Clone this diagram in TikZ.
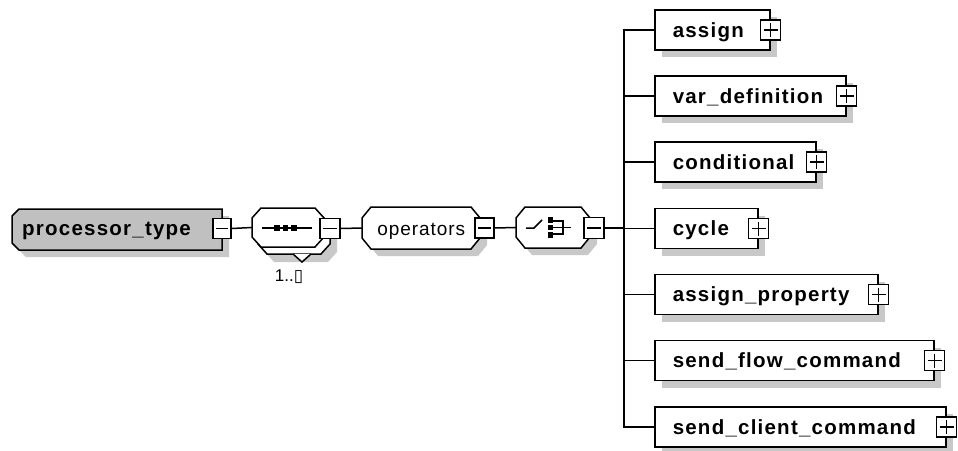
\documentclass[tikz,border=0pt]{standalone}
\usepackage{fontspec}
\setmainfont{Liberation Sans}
\newfontfamily\efont{Liberation Sans}[LetterSpace=6]
\newfontfamily\ofont{Liberation Sans}[LetterSpace=5]
\newfontfamily\symfont{DejaVu Sans}
\usetikzlibrary{shadows}
\definecolor{shadowc}{HTML}{C8C8C8}
\definecolor{elemfill}{HTML}{C0C0C0}
\newcommand{\myocta}[7]{\path[#1] ({#2+#6},#3) -- ({#4-#6},#3) -- (#4,{#3+#7}) -- (#4,{#5-#7}) -- ({#4-#6},#5) -- ({#2+#6},#5) -- (#2,{#5-#7}) -- (#2,{#3+#7}) -- cycle;}
\begin{document}
\begin{tikzpicture}[x=1pt,y=-1pt,
  ln/.style={draw=black, line width=1.5pt, line join=miter},
  elem/.style={draw, line width=1.5pt, fill=white, rectangle, inner sep=0pt,
    minimum height=40pt, anchor=west, text height=17pt, text depth=2.6pt,
    font=\efont\bfseries\fontsize{20.5}{24}\selectfont,
    drop shadow={shadow xshift=7pt,shadow yshift=-7pt,fill=shadowc,opacity=1}},
  pm/.style={draw, line width=1.4pt, fill=white, rectangle, inner sep=0pt,
    minimum width=20pt, minimum height=20pt},
  plusbox/.style={pm, path picture={
    \draw[line width=1.4pt] ([xshift=3pt]path picture bounding box.west) -- ([xshift=-3pt]path picture bounding box.east);
    \draw[line width=1.4pt] ([yshift=-3pt]path picture bounding box.north) -- ([yshift=3pt]path picture bounding box.south);}},
  minusbox/.style={pm, minimum width=19pt, path picture={
    \draw[line width=1.4pt] ([xshift=3pt]path picture bounding box.west) -- ([xshift=-3pt]path picture bounding box.east);}},
  holder/.style={inner sep=0pt, draw=none, rectangle},
  txt/.style={inner sep=0pt, text height=16pt, text depth=2pt, font=\ofont\fontsize{19}{22}\selectfont}
]
\useasboundingbox (0,0) rectangle (958,450);

% ---- processor_type
\fill[shadowc] (26,216) -- (229,216) -- (229,257) -- (26,257) -- (19,250) -- (19,223) -- cycle;
\draw[ln, fill=elemfill] (19,209) -- (222,209) -- (222,250) -- (19,250) -- (12,243) -- (12,216) -- cycle;
\node[holder, anchor=west, text height=15pt, text depth=4pt, font=\efont\bfseries\fontsize{20.5}{24}\selectfont] (pt) at (22,229.5) {processor\_type};
\node[minusbox, minimum width=18pt] (ptm) at (222,228.5) {};

% ---- sequence (1..n)
\myocta{fill=shadowc}{265}{222}{337}{262}{9}{10}
\myocta{ln, fill=white}{258}{215}{330}{254}{9}{10}
\myocta{ln, fill=white}{252}{208}{324}{247}{9}{10}
\node[holder, minimum width=72pt, minimum height=39pt] (seq) at (288,227.5) {};
\draw[line width=1.5pt] (262,228) -- (312,228);
\foreach \dx in {277,285.5,294} \fill (\dx,228) +(-2.6,-2.6) rectangle +(2.6,2.6);
\draw[ln, fill=white] (293,254) -- (302,262) -- (311,254);
\node[holder, font=\fontsize{17}{20}\selectfont] (mult) at (289,277) {1..{\symfont ▯}};
\node[minusbox, minimum width=20pt] (seqm) at (330,228.5) {};

% ---- operators group
\myocta{fill=shadowc}{369}{214}{487}{256}{9}{11}
\myocta{ln, fill=white}{362}{207}{480}{249}{9}{11}
\node[holder, txt, minimum width=118pt, minimum height=42pt, anchor=west] (ops) at (362,228) {operators\hspace{6pt}};
\node[minusbox] (opm) at (484.5,228) {};

% ---- choice
\myocta{fill=shadowc}{523}{214}{597}{255}{9}{11}
\myocta{ln, fill=white}{516}{207}{590}{248}{9}{11}
\node[holder, minimum width=74pt, minimum height=41pt] (cho) at (553,227.5) {};
\draw[line width=1.5pt] (526,228) -- (534,228) -- (542,220);
\foreach \yy in {220,227.5,235} \fill (550.5,\yy) +(-2.6,-2.6) rectangle +(2.6,2.6);
\draw[line width=1.4pt] (553,221) -- (563,221) -- (563,234) -- (553,234);
\draw[line width=1.4pt] (553,227.5) -- (571,227.5);
\node[minusbox, minimum width=20pt, minimum height=21pt] (chm) at (594,228) {};

% ---- child elements
\node[elem] (assign) at (654,30) {\makebox[115pt][l]{\hspace{18pt}assign}};
\node[elem] (vardef) at (654,96) {\makebox[191pt][l]{\hspace{18pt}var\_definition}};
\node[elem] (cond) at (654,162) {\makebox[161pt][l]{\hspace{18pt}conditional}};
\node[elem] (cycle) at (654,228.5) {\makebox[103pt][l]{\hspace{18pt}cycle}};
\node[elem] (aprop) at (654,294.5) {\makebox[223pt][l]{\hspace{18pt}assign\_property}};
\node[elem] (sflow) at (654,360.5) {\makebox[279pt][l]{\hspace{18pt}send\_flow\_command}};
\node[elem] (sclient) at (654,427) {\makebox[291pt][l]{\hspace{18pt}send\_client\_command}};
\foreach \n in {assign,vardef,cond,cycle,aprop,sflow,sclient}
  \node[plusbox] (\n p) at (\n.east) {};

% ---- connectors
\coordinate (busx) at (624,228);
\draw[ln] (ptm.east) -- (seq.west);
\draw[ln] (seqm.east) -- (ops.west);
\draw[ln] (opm.east) -- (cho.west);
\draw[ln] (chm.east) -- (busx);
\draw[ln] (assign.west) -- (assign.west -| busx) -- (sclient.west -| busx) -- (sclient.west);
\foreach \n in {vardef,cond,cycle,aprop,sflow}
  \draw[ln] (\n.west) -- (\n.west -| busx);
\end{tikzpicture}
\end{document}
